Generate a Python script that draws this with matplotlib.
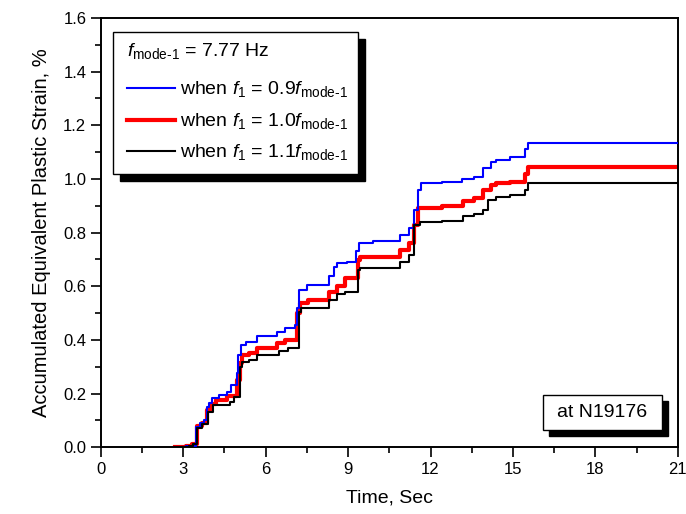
import matplotlib
matplotlib.use("Agg")
import matplotlib.pyplot as plt
from matplotlib.patches import Rectangle
from matplotlib.ticker import MultipleLocator

plt.rcParams['font.family'] = ['Liberation Sans', 'DejaVu Sans']
plt.rcParams['mathtext.fontset'] = 'custom'
plt.rcParams['mathtext.rm'] = 'Liberation Sans'
plt.rcParams['mathtext.it'] = 'Liberation Sans:italic'

# ---- data (step curves, time in s, strain in %) ----
t_09 = [2.7, 3.1, 3.45, 3.6, 3.75, 3.85, 3.95, 4.05, 4.3, 4.6, 4.75, 4.95, 5.0, 5.1, 5.3, 5.7,
        6.4, 6.7, 7.05, 7.15, 7.2, 7.5, 8.3, 8.5, 8.6, 8.95, 9.3, 9.4, 9.9, 10.9, 11.2, 11.4,
        11.55, 11.65, 12.4, 13.15, 13.6, 13.9, 14.2, 14.4, 14.9, 15.45, 15.55, 21.0]
v_09 = [0.0, 0.005, 0.076, 0.09, 0.10, 0.15, 0.164, 0.183, 0.194, 0.206, 0.23, 0.276, 0.343,
        0.38, 0.393, 0.414, 0.43, 0.443, 0.455, 0.52, 0.586, 0.604, 0.638, 0.672, 0.687, 0.69,
        0.73, 0.762, 0.768, 0.79, 0.817, 0.884, 0.96, 0.984, 0.99, 0.998, 1.008, 1.04, 1.065,
        1.07, 1.08, 1.11, 1.133, 1.133]

t_10 = [2.7, 3.1, 3.3, 3.5, 3.7, 3.85, 4.0, 4.2, 4.6, 4.95, 5.05, 5.15, 5.4, 5.7, 6.4, 6.7,
        7.15, 7.25, 7.55, 8.3, 8.6, 8.9, 9.35, 9.45, 10.9, 11.2, 11.4, 11.55, 12.4, 13.2, 13.6,
        13.9, 14.2, 14.4, 14.9, 15.45, 15.55, 21.0]
v_10 = [0.0, 0.003, 0.01, 0.08, 0.09, 0.14, 0.16, 0.175, 0.19, 0.25, 0.313, 0.343, 0.35, 0.368,
        0.387, 0.40, 0.50, 0.536, 0.548, 0.58, 0.60, 0.63, 0.698, 0.708, 0.735, 0.76, 0.828,
        0.89, 0.899, 0.919, 0.93, 0.96, 0.978, 0.984, 0.99, 1.02, 1.046, 1.046]

t_11 = [2.7, 3.2, 3.35, 3.5, 3.7, 3.9, 4.1, 4.7, 4.85, 5.05, 5.15, 5.4, 5.7, 6.5, 6.8, 7.2,
        7.3, 8.3, 8.6, 8.9, 9.35, 9.45, 10.9, 11.2, 11.4, 11.6, 12.4, 13.2, 13.6, 13.9, 14.1,
        14.4, 14.9, 15.45, 15.55, 21.0]
v_11 = [0.0, 0.003, 0.01, 0.07, 0.085, 0.13, 0.157, 0.169, 0.188, 0.30, 0.318, 0.325, 0.345,
        0.36, 0.368, 0.505, 0.518, 0.548, 0.57, 0.58, 0.66, 0.667, 0.69, 0.716, 0.828, 0.84,
        0.845, 0.862, 0.87, 0.884, 0.92, 0.934, 0.94, 0.96, 0.986, 0.986]

SUB = r'_{\mathrm{mode}\text{-}1}'
labels = [r'when $f_1$ = 0.9$f' + SUB + '$',
          r'when $f_1$ = 1.0$f' + SUB + '$',
          r'when $f_1$ = 1.1$f' + SUB + '$']
header = r'$f' + SUB + '$ = 7.77 Hz'
annot = 'at N19176'

x_ticks = [0, 3, 6, 9, 12, 15, 18, 21]
y_ticks = [0.0, 0.2, 0.4, 0.6, 0.8, 1.0, 1.2, 1.4, 1.6]

fig = plt.figure(figsize=(6.86, 5.14), dpi=100)
ax = fig.add_axes([0.147, 0.130, 0.841, 0.835])

ax.plot(t_09, v_09, color='#0000ff', lw=1.5, drawstyle='steps-post', zorder=3)
ax.plot(t_10, v_10, color='#ff0000', lw=3.0, drawstyle='steps-post', zorder=2)
ax.plot(t_11, v_11, color='#000000', lw=1.5, drawstyle='steps-post', zorder=4)

ax.set_xlim(0, 21)
ax.set_ylim(0, 1.6)
ax.set_xticks(x_ticks)
ax.set_yticks(y_ticks)
ax.set_yticklabels([f'{y:.1f}' for y in y_ticks])
ax.xaxis.set_minor_locator(MultipleLocator(1.5))
ax.yaxis.set_minor_locator(MultipleLocator(0.1))
ax.tick_params(which='major', direction='out', length=7, width=1.2, labelsize=12, colors='black')
ax.tick_params(which='minor', direction='out', length=4, width=1.2)
ax.tick_params(top=False, right=False, which='both')
for s in ax.spines.values():
    s.set_linewidth(1.4)
ax.set_xlabel('Time, Sec', fontsize=14, labelpad=9)
ax.set_ylabel('Accumulated Equivalent Plastic Strain, %', fontsize=14.5, labelpad=9)

# ---- legend box with shadow ----
def px2ax(x, y):
    return ((x - 101) / (678 - 101), (447 - y) / (447 - 18))

def shadow_box(x0, y0, x1, y1, off=7):
    ax0, ay1 = px2ax(x0, y1)
    ax1, ay0 = px2ax(x1, y0)
    w, h = ax1 - ax0, ay0 - ay1
    dx, dy = off / 577, off / 429
    ax.add_patch(Rectangle((ax0 + dx, ay1 - dy), w, h, transform=ax.transAxes,
                           facecolor='black', edgecolor='black', zorder=8, clip_on=False))
    ax.add_patch(Rectangle((ax0, ay1), w, h, transform=ax.transAxes,
                           facecolor='white', edgecolor='black', lw=1.0, zorder=9, clip_on=False))

shadow_box(113, 32, 358, 174)
hx, hy = px2ax(127, 51)
ax.text(hx, hy, header, transform=ax.transAxes, fontsize=14, va='center', ha='left', zorder=10)
colors = ['#0000ff', '#ff0000', '#000000']
widths = [1.5, 3.0, 1.5]
rows_y = [96, 128, 159]
for lab, c, w, yy in zip(labels, colors, widths, rows_y):
    lx0, ly = px2ax(127, yy - 8)
    lx1, _ = px2ax(175, yy - 8)
    ax.plot([lx0, lx1], [ly, ly], color=c, lw=w, transform=ax.transAxes, zorder=10, clip_on=False)
    tx, ty = px2ax(180, yy - 7)
    ax.text(tx, ty, lab, transform=ax.transAxes, fontsize=14, va='center', ha='left', zorder=10)

# ---- annotation box ----
shadow_box(543, 395, 662, 430, off=6)
ax_, ay_ = px2ax(602, 412)
ax.text(ax_, ay_, annot, transform=ax.transAxes, fontsize=14, va='center', ha='center', zorder=10)

fig.savefig('out.png', dpi=100)
